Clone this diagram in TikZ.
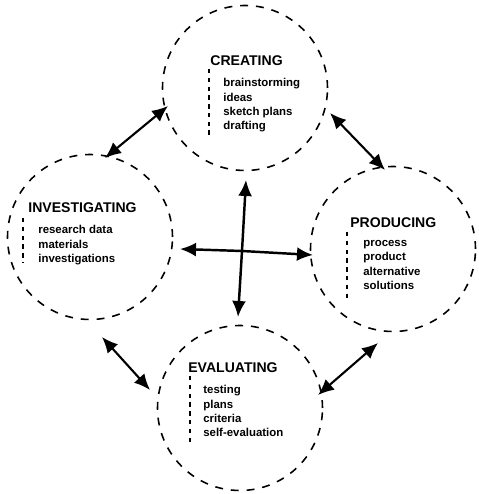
\documentclass[tikz,border=0pt]{standalone}
\usepackage{fontspec}
\setmainfont{Liberation Sans}
\usetikzlibrary{arrows.meta, positioning}
\tikzset{
    phase/.style={circle, draw=black, dashed, dash pattern=on 4.5pt off 4.5pt, line width=0.9pt, minimum size=3.3cm},
    title/.style={font=\fontsize{8}{9}\selectfont\bfseries, inner sep=0pt, anchor=north west},
    item/.style={font=\fontsize{6.5}{8.2}\selectfont\bfseries, align=left, inner sep=0pt, anchor=north west},
    guide/.style={dashed, dash pattern=on 2.5pt off 2.5pt, line width=0.9pt},
    arrow/.style={-{Latex[length=3.2mm, width=2.8mm]}, line width=1.4pt},
    dblarrow/.style={{Latex[length=3.2mm, width=2.8mm]}-{Latex[length=3.2mm, width=2.8mm]}, line width=1.2pt},
}
\begin{document}
\begin{tikzpicture}
    \useasboundingbox (0,0) rectangle (9.56,9.88);

    % four phases
    \node[phase] (cre) at (4.9,8.12) {};
    \node[phase] (inv) at (1.8,5.14) {};
    \node[phase] (pro) at (7.86,4.9) {};
    \node[phase] (eva) at (4.8,1.72) {};

    \node[title] (cret) at (4.2,8.78) {CREATING};
    \node[item] (crel) at (4.46,8.32) {brainstorming\\ideas\\sketch plans\\drafting};
    \draw[guide] (4.18,8.5) -- (4.18,7.14);

    \node[title] (invt) at (0.56,5.84) {INVESTIGATING};
    \node[item] (invl) at (0.76,5.38) {research data\\materials\\investigations};
    \draw[guide] (0.46,5.52) -- (0.46,4.62);

    \node[title] (prot) at (7.0,5.54) {PRODUCING};
    \node[item] (prol) at (7.26,5.08) {process\\product\\alternative\\solutions};
    \draw[guide] (6.94,5.24) -- (6.94,3.9);

    \node[title] (evat) at (3.76,2.64) {EVALUATING};
    \node[item] (eval) at (4.06,2.18) {testing\\plans\\criteria\\self-evaluation};
    \draw[guide] (3.8,2.36) -- (3.8,1.0);

    % links between phases
    \coordinate (tla) at (2.1,6.72);
    \coordinate (tlb) at (3.36,7.76);
    \coordinate (tra) at (6.6,7.62);
    \coordinate (trb) at (7.7,6.48);
    \coordinate (bra) at (6.36,1.98);
    \coordinate (brb) at (7.56,3.02);
    \coordinate (bla) at (2.04,3.14);
    \coordinate (blb) at (3.0,2.08);
    \draw[dblarrow] (tla) -- (tlb);
    \draw[dblarrow] (tra) -- (trb);
    \draw[dblarrow] (bra) -- (brb);
    \draw[dblarrow] (bla) -- (blb);

    % central cross
    \coordinate (hub) at (4.84,4.86);
    \coordinate (up) at (4.92,6.28);
    \coordinate (down) at (4.76,3.54);
    \coordinate (left) at (3.6,4.9);
    \coordinate (right) at (6.26,4.78);
    \draw[arrow] (hub) -- (up);
    \draw[arrow] (hub) -- (down);
    \draw[arrow] (hub) -- (left);
    \draw[arrow] (hub) -- (right);
\end{tikzpicture}
\end{document}
